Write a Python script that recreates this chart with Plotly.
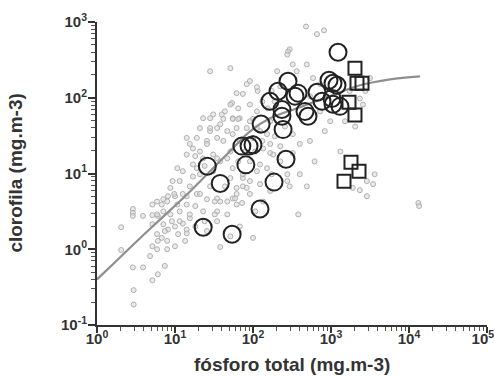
import plotly.graph_objects as go

# ---- data (log10 of total phosphorus / chlorophyll) ----
bg_log_tp = [0.46, 0.46, 0.46, 0.31, 0.31, 0.46, 0.59, 0.78, 0.71, 0.47, 0.47,
             0.59, 0.71, 0.71, 0.78, 0.83, 0.85, 0.71, 0.91, 1.00, 0.77, 0.83, 0.78, 0.90, 0.90,
             0.77, 0.71, 1.00, 1.04, 1.10, 1.15, 0.91, 0.96, 0.99, 1.03, 1.15, 1.28, 0.77, 0.85,
             0.94, 1.06, 0.90, 1.19, 1.15, 1.41, 1.54, 1.67, 1.74, 1.79,
             1.03, 1.15, 1.19, 1.41, 1.32, 1.06, 0.94, 1.10, 0.77, 0.85, 1.23, 1.28, 1.19, 1.45,
             1.58, 1.67, 1.74, 1.83, 1.45, 1.54, 1.62, 1.36, 1.15, 1.32, 1.41, 1.19, 1.36, 1.54,
             1.67, 1.79, 1.96, 1.74, 1.87, 2.05, 1.71, 1.54, 1.96, 2.09, 1.54, 1.67,
             1.45, 1.71, 1.96, 2.06, 1.79, 1.87, 1.73, 1.49, 1.62, 1.45, 1.64, 1.96, 2.05, 2.00,
             1.81, 1.81, 1.92, 2.47, 2.51, 2.69, 2.31, 2.56, 2.77, 2.09, 2.22, 2.19, 2.05, 2.68,
             2.82, 2.91, 2.05, 2.45, 2.44, 2.86, 1.71, 1.60, 1.74, 1.79, 1.96, 2.18, 2.00, 2.13,
             2.22, 2.51, 2.18, 2.24, 1.87, 2.44, 2.60, 2.51, 2.60, 3.37, 3.41, 3.50, 3.56, 3.46,
             3.28,
             1.51, 1.58, 1.77, 1.86, 1.51, 1.79, 1.87, 1.92, 2.13, 2.58, 2.00, 1.58, 2.47, 2.69,
             3.37, 3.46, 3.54, 4.12, 4.13,
             2.44, 2.22, 2.26, 2.09, 2.35, 3.44,
             1.32, 1.15, 1.36, 1.54, 1.92, 0.97, 1.10, 1.23, 1.32, 1.49, 1.74, 1.41, 1.23, 1.28,
             1.26, 1.38, 1.49, 1.58, 1.71, 1.83, 1.90, 1.96, 1.81, 1.64, 1.45, 1.26, 1.06, 0.87,
             1.00, 1.13, 1.26, 1.38, 2.03, 2.12, 2.28, 2.35, 2.41, 2.12, 2.24, 2.28, 2.35, 2.73,
             2.86, 2.99, 2.92, 2.73, 2.79, 3.12, 3.18, 3.24, 3.31, 2.22, 2.03, 1.83, 1.71, 0.87,
             0.68]
bg_log_chl = [0.53, 0.48, 0.44, 0.29, -0.01, -0.24, -0.24, -0.33, -0.41, -0.54, -0.73,
              0.44, 0.45, 0.33, 0.44, 0.59, 0.66, 0.59, 0.70, 0.70, 0.20, 0.15, 0.11, 0.11, 0.00,
              0.00, 0.04, 0.30, 0.20, 0.34, 0.21, 0.26, 0.37, 0.73, 0.59, 0.70, 0.73, 0.46, 0.33,
              0.46, 0.50, 0.63, 0.41, 0.26, 0.24, 0.37, 0.46, 0.67, 0.59,
              1.07, 1.25, 1.39, 1.43, 1.29, 0.90, 0.81, 0.73, 0.63, 0.50, 0.96, 1.07, 0.83, 1.73,
              1.65, 1.56, 1.73, 1.73, 1.56, 1.47, 1.43, 1.20, 0.59, 0.73, 0.66, 0.46, 0.50, 0.50,
              0.63, 0.81, 0.90, 1.07, 0.94, 1.03, 0.94, 0.67, 0.73, 0.86, 1.20, 1.20,
              2.35, 2.39, 2.22, 2.09, 2.06, 2.05, 1.93, 1.78, 1.72, 1.60, 1.82, 1.91, 1.82, 1.72,
              1.86, 1.72, 1.60, 2.64, 2.44, 2.44, 2.35, 2.35, 2.26, 1.56, 1.69, 1.86, 1.60, 2.94,
              2.84, 2.89, 2.14, 2.61, 2.57, 2.18, 1.91, 1.78, 1.72, 1.60, 1.69, 1.52, 1.47, 1.33,
              1.27, 1.27, 1.07, 0.99, 0.99, 0.90, 0.99, 1.52, 1.39, 1.99, 1.91, 2.26, 0.99, 0.90,
              0.81,
              0.63, 0.63, 0.67, 0.61, 0.46, 0.73, 0.83, 0.81, 0.63, 0.46, 0.15, 0.03, 0.83, 0.83,
              0.78, 0.70, 0.86, 0.61, 0.57,
              0.99, 1.39, 1.25, 1.12, 1.16, 2.09,
              1.60, 1.47, 1.73, 1.60, 2.18, 0.90, 1.03, 1.12, 0.99, 1.25, 1.52, 1.39, 1.33, 1.47,
              1.23, 1.10, 1.03, 1.16, 1.29, 1.43, 1.29, 1.16, 1.16, 0.83, 0.83, 0.57, 0.37, 0.24,
              0.04, 0.11, 0.30, 0.37, 1.29, 1.43, 1.49, 1.36, 1.62, 1.95, 2.09, 1.95, 2.15, 2.02,
              1.82, 1.69, 1.56, 1.43, 1.16, 1.29, 1.69, 2.09, 1.62, 0.77, 0.50, 0.30, 0.17, -0.22,
              -0.09]

circle_tp = [1230, 281, 943, 1061, 1194, 209, 378, 662, 165, 345, 767, 1030, 1061, 1304,
             235, 235, 464, 507, 127, 243, 89, 72, 100, 81, 265, 26, 38, 186, 123, 23, 54]
circle_chl = [398, 165, 170, 155, 146, 122, 115, 118, 90, 105, 90, 98, 82, 77,
              70, 57, 66, 57, 45, 38, 23, 23, 24, 13, 15.4, 12.5, 7.4, 7.7, 3.4, 1.95, 1.58]

square_tp = [2030, 2154, 2497, 1701, 2030, 1804, 2286, 1468]
square_chl = [245, 155, 155, 87, 59, 14.1, 10.7, 7.9]

curve_tp = [1, 1.97, 3.56, 7.9, 15.6, 28.1, 50.7, 91.6, 165, 400, 971, 2353, 5705, 13830]
curve_chl = [0.40, 0.78, 1.40, 3.0, 5.8, 10.7, 19.7, 36.1, 53.6, 75, 105, 146, 175, 192]

x_tick_vals = [1, 10, 100, 1000, 10000, 100000]
x_tick_text = ["<b>10<sup>0</sup></b>", "<b>10<sup>1</sup></b>", "<b>10<sup>2</sup></b>",
               "<b>10<sup>3</sup></b>", "<b>10<sup>4</sup></b>",
               "<b>10<sup>5</sup></b>&nbsp;&nbsp;"]
y_tick_vals = [0.1, 1, 10, 100, 1000]
y_tick_text = ["<b>10<sup>-1</sup></b>", "<b>10<sup>0</sup></b>", "<b>10<sup>1</sup></b>",
               "<b>10<sup>2</sup></b>", "<b>10<sup>3</sup></b>"]
x_title = "fósforo total (mg.m-3)"
y_title = "clorofila (mg.m-3)"

x_minor_vals = [m * 10 ** d for d in range(0, 5) for m in range(2, 10)]
y_minor_vals = [m * 10 ** d for d in range(-1, 3) for m in range(2, 10)]

bg_tp = [10 ** v for v in bg_log_tp]
bg_chl = [10 ** v for v in bg_log_chl]

fig = go.Figure()
fig.add_trace(go.Scatter(
    x=bg_tp, y=bg_chl, mode="markers",
    marker=dict(symbol="circle", size=5, color="rgba(220,220,220,0.6)",
                line=dict(color="#b0b0b0", width=1)),
    showlegend=False, hoverinfo="skip"))
fig.add_trace(go.Scatter(
    x=curve_tp, y=curve_chl, mode="lines", line=dict(color="#8f8f8f", width=2.2, shape="spline"),
    showlegend=False))
fig.add_trace(go.Scatter(
    x=circle_tp, y=circle_chl, mode="markers",
    marker=dict(symbol="circle-open", size=17, color="#222222", line=dict(width=2)),
    showlegend=False))
fig.add_trace(go.Scatter(
    x=square_tp, y=square_chl, mode="markers",
    marker=dict(symbol="square-open", size=13, color="#222222", line=dict(width=2)),
    showlegend=False))

axis_font = dict(family="Liberation Sans, Arial, sans-serif", size=15, color="#333333")
title_font = dict(family="Liberation Sans, Arial, sans-serif", size=19, color="#333333")

fig.update_xaxes(
    type="log", range=[0, 5], tickvals=x_tick_vals, ticktext=x_tick_text,
    showgrid=False, zeroline=False, showline=True, linecolor="#333333", linewidth=2,
    ticks="outside", ticklen=6, tickwidth=1.5, tickcolor="#333333",
    minor=dict(tickvals=x_minor_vals, ticks="outside", ticklen=4, tickwidth=1,
               tickcolor="#555555", showgrid=False),
    tickfont=axis_font, ticklabeloverflow="allow", ticklabelstandoff=-7,
    automargin=False)
fig.update_yaxes(
    type="log", range=[-1, 3], tickvals=y_tick_vals, ticktext=y_tick_text,
    showgrid=False, zeroline=False, showline=True, linecolor="#333333", linewidth=2,
    ticks="outside", ticklen=7, tickwidth=1.5, tickcolor="#333333",
    minor=dict(tickvals=y_minor_vals, ticks="outside", ticklen=4, tickwidth=1,
               tickcolor="#555555", showgrid=False),
    tickfont=axis_font, ticklabeloverflow="allow", ticklabelstandoff=-2,
    automargin=False)

fig.add_annotation(text="<b>" + x_title + "</b>", xref="paper", yref="paper",
                   x=0.5, y=-0.132, xanchor="center", yanchor="middle",
                   showarrow=False, font=title_font)
fig.add_annotation(text="<b>" + y_title + "</b>", xref="paper", yref="paper",
                   x=-0.21, y=0.5, xanchor="center", yanchor="middle", textangle=-90,
                   showarrow=False, font=title_font)

fig.update_layout(
    width=495, height=376,
    margin=dict(l=97, r=8, t=22, b=51),
    plot_bgcolor="white", paper_bgcolor="white",
    showlegend=False)

# remove the browser's default 8px page margin so the figure fills the window
fig.write_html("out.html", config={"displayModeBar": False},
               post_script="document.body.style.margin='0';document.body.style.overflow='hidden';")
